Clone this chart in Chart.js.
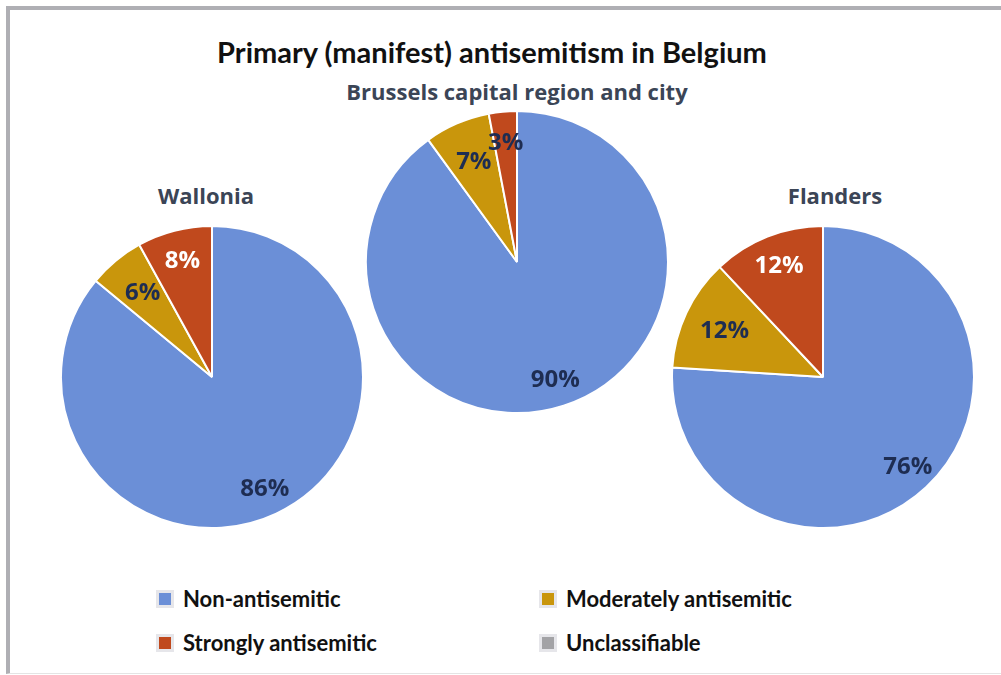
<!DOCTYPE html>
<html>
<head>
<meta charset="utf-8">
<script src="https://cdn.jsdelivr.net/npm/chart.js@4"></script>
<style>
  body { margin: 0; background: #fff; width: 1001px; height: 675px; overflow: hidden; position: relative; }
  #frame { position: absolute; left: 6px; top: 6px; width: 995px; height: 668px; box-sizing: border-box;
           border-top: 4px solid #afafb4; border-left: 4px solid #afafb4; border-bottom: 1px solid #e4e4e4; }
  .txt { position: absolute; white-space: nowrap; font-weight: bold; }
  #title { left: 0; width: 984px; top: 34px; text-align: center; font-family: Lato, sans-serif; font-size: 29px; color: #111; }
  .sub { font-family: "Open Sans", sans-serif; font-size: 22px; color: #3b4556; transform: translateX(-50%); }
  .pie { position: absolute; width: 304px; height: 304px; }
  .leg { position: absolute; display: flex; align-items: center; font-family: Lato, sans-serif; font-weight: bold; font-size: 22px; color: #111; }
  .leg i { display: inline-block; width: 12px; height: 12px; border: 3px solid #e6e6ea; margin-right: 9px; }
</style>
</head>
<body>
<div id="frame"></div>
<div id="title" class="txt">Primary (manifest) antisemitism in Belgium</div>
<div id="charts"></div>
<div id="legend"></div>
<script>
const categories = ['Non-antisemitic', 'Moderately antisemitic', 'Strongly antisemitic', 'Unclassifiable'];
const regions = ['Wallonia', 'Brussels capital region and city', 'Flanders'];
const wallonia = [86, 6, 8, 0];
const brussels = [90, 7, 3, 0];
const flanders = [76, 12, 12, 0];

const colors = ['#6b8fd7', '#c9960c', '#c0491d', '#a3a3a6'];
const labelPos = [0.82, 0.72, 0.79, 0.8];

// where each pie sits: center x, center y, title x, title y
const layout = [
  { cx: 212, cy: 377, tx: 206, ty: 180 },
  { cx: 517, cy: 262, tx: 517, ty: 76 },
  { cx: 823, cy: 377, tx: 835, ty: 180 }
];

const pctLabels = {
  id: 'pctLabels',
  afterDatasetsDraw(chart) {
    const ctx = chart.ctx;
    const vals = chart.data.datasets[0].data;
    const meta = chart.getDatasetMeta(0);
    ctx.save();
    ctx.font = 'bold 24px "Open Sans"';
    ctx.textAlign = 'center';
    ctx.textBaseline = 'middle';
    meta.data.forEach((arc, i) => {
      if (!vals[i]) return;
      const p = arc.getProps(['x', 'y', 'startAngle', 'endAngle', 'outerRadius'], true);
      const mid = (p.startAngle + p.endAngle) / 2;
      const r = p.outerRadius * labelPos[i];
      ctx.fillStyle = (i === 2 && vals[i] > 5) ? '#ffffff' : '#1e2d52';
      ctx.fillText(vals[i] + '%', p.x + Math.cos(mid) * r, p.y + Math.sin(mid) * r);
    });
    ctx.restore();
  }
};

const series = [wallonia, brussels, flanders];
const holder = document.getElementById('charts');

series.forEach((vals, k) => {
  const pos = layout[k];
  const t = document.createElement('div');
  t.className = 'txt sub';
  t.style.left = pos.tx + 'px';
  t.style.top = pos.ty + 'px';
  t.textContent = regions[k];
  holder.appendChild(t);

  const box = document.createElement('div');
  box.className = 'pie';
  box.style.left = (pos.cx - 152) + 'px';
  box.style.top = (pos.cy - 152) + 'px';
  const cv = document.createElement('canvas');
  box.appendChild(cv);
  holder.appendChild(box);

  new Chart(cv, {
    type: 'pie',
    data: {
      labels: categories,
      datasets: [{
        data: vals,
        backgroundColor: colors,
        borderColor: '#ffffff',
        borderWidth: 2
      }]
    },
    options: {
      responsive: true,
      maintainAspectRatio: false,
      animation: false,
      layout: { padding: 0 },
      plugins: { legend: { display: false }, tooltip: { enabled: false } }
    },
    plugins: [pctLabels]
  });
});

// legend, two columns
const legPos = [[156, 585], [539, 585], [156, 629], [539, 629]];
const legend = document.getElementById('legend');
categories.forEach((c, i) => {
  const d = document.createElement('div');
  d.className = 'leg';
  d.style.left = legPos[i][0] + 'px';
  d.style.top = legPos[i][1] + 'px';
  d.innerHTML = '<i style="background:' + colors[i] + '"></i>' + c;
  legend.appendChild(d);
});
</script>
</body>
</html>
